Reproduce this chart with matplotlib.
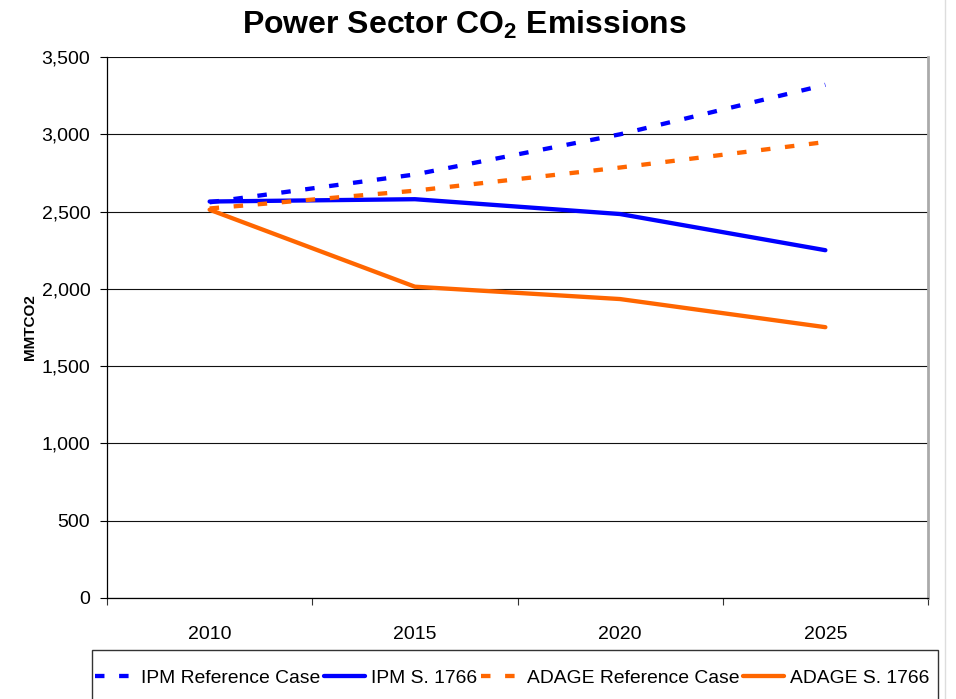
import matplotlib.pyplot as plt
import matplotlib.patches as mpatches
import matplotlib.lines as mlines
import numpy as np

plt.rcParams['font.family'] = ['Liberation Sans', 'DejaVu Sans']
plt.rcParams['mathtext.fontset'] = 'custom'
plt.rcParams['mathtext.rm'] = 'Liberation Sans'
plt.rcParams['mathtext.bf'] = 'Liberation Sans:bold'

years = ['2010', '2015', '2020', '2025']
ipm_ref = [2560, 2740, 3000, 3320]
ipm_s1766 = [2565, 2580, 2484, 2250]
adage_ref = [2520, 2635, 2785, 2950]
adage_s1766 = [2512, 2014, 1934, 1752]

blue = '#0000FF'
orange = '#FF6600'

W, H = 956, 699
fig = plt.figure(figsize=(W / 100, H / 100), dpi=100)
ax = fig.add_axes([107 / W, 1 - 598 / H, (928 - 107) / W, (598 - 57) / H])

x = np.arange(len(years)) + 0.5
dash = (2.2, 3.4)
ax.plot(x, ipm_ref, color=blue, lw=3.1, linestyle=(0, dash), dash_capstyle='butt', label='IPM Reference Case')
ax.plot(x, ipm_s1766, color=blue, lw=3.1, solid_capstyle='round', label='IPM S. 1766')
ax.plot(x, adage_ref, color=orange, lw=3.1, linestyle=(0, dash), dash_capstyle='butt', label='ADAGE Reference Case')
ax.plot(x, adage_s1766, color=orange, lw=3.1, solid_capstyle='round', label='ADAGE S. 1766')

ax.set_xlim(0, 4)
ax.set_ylim(0, 3500)
ax.set_yticks(np.arange(0, 3501, 500))
ax.set_yticklabels([f'{v:,}' for v in range(0, 3501, 500)])
ax.yaxis.grid(True, color='#111111', lw=0.8)
ax.set_axisbelow(True)

ax.set_xticks(np.arange(0, 5))
ax.set_xticklabels([])
ax.set_xticks(x, minor=True)
ax.set_xticklabels(years, minor=True)
ax.tick_params(axis='x', which='major', direction='out', length=5, width=0.8, color='#333333')
ax.tick_params(axis='x', which='minor', length=0, pad=20, labelsize=14)
ax.tick_params(axis='y', direction='out', length=5, width=0.8, pad=7, labelsize=14)

ax.spines['top'].set_visible(False)
ax.spines['right'].set_color('#aaaaaa')
ax.spines['right'].set_linewidth(2)
ax.spines['left'].set_linewidth(0.9)
ax.spines['bottom'].set_linewidth(0.9)

ax.set_ylabel('MMTCO2', fontsize=11, fontweight='bold', labelpad=3)

fig.text(464 / W, 1 - 25 / H, r'Power Sector CO$_{\mathbf{2}}$ Emissions',
         ha='center', va='center', fontsize=23, fontweight='bold')

# chart area border on the right
fig.add_artist(mlines.Line2D([945 / W, 945 / W], [0, 1], color='#dddddd', lw=1))

# legend box
fig.add_artist(mpatches.Rectangle((92 / W, -0.05), (938 - 92) / W, 0.05 + (699 - 650) / H,
                                  transform=fig.transFigure, fill=False, edgecolor='#333333', lw=1))
handles, labels = ax.get_legend_handles_labels()
leg = fig.legend(handles, labels, loc='center left', bbox_to_anchor=(95 / W, 1 - 678 / H),
                 ncol=4, frameon=False, fontsize=13.9, handlelength=2.1, handletextpad=0.3,
                 columnspacing=0.2, borderpad=0, borderaxespad=0)

fig.savefig('out.png', dpi=100)
